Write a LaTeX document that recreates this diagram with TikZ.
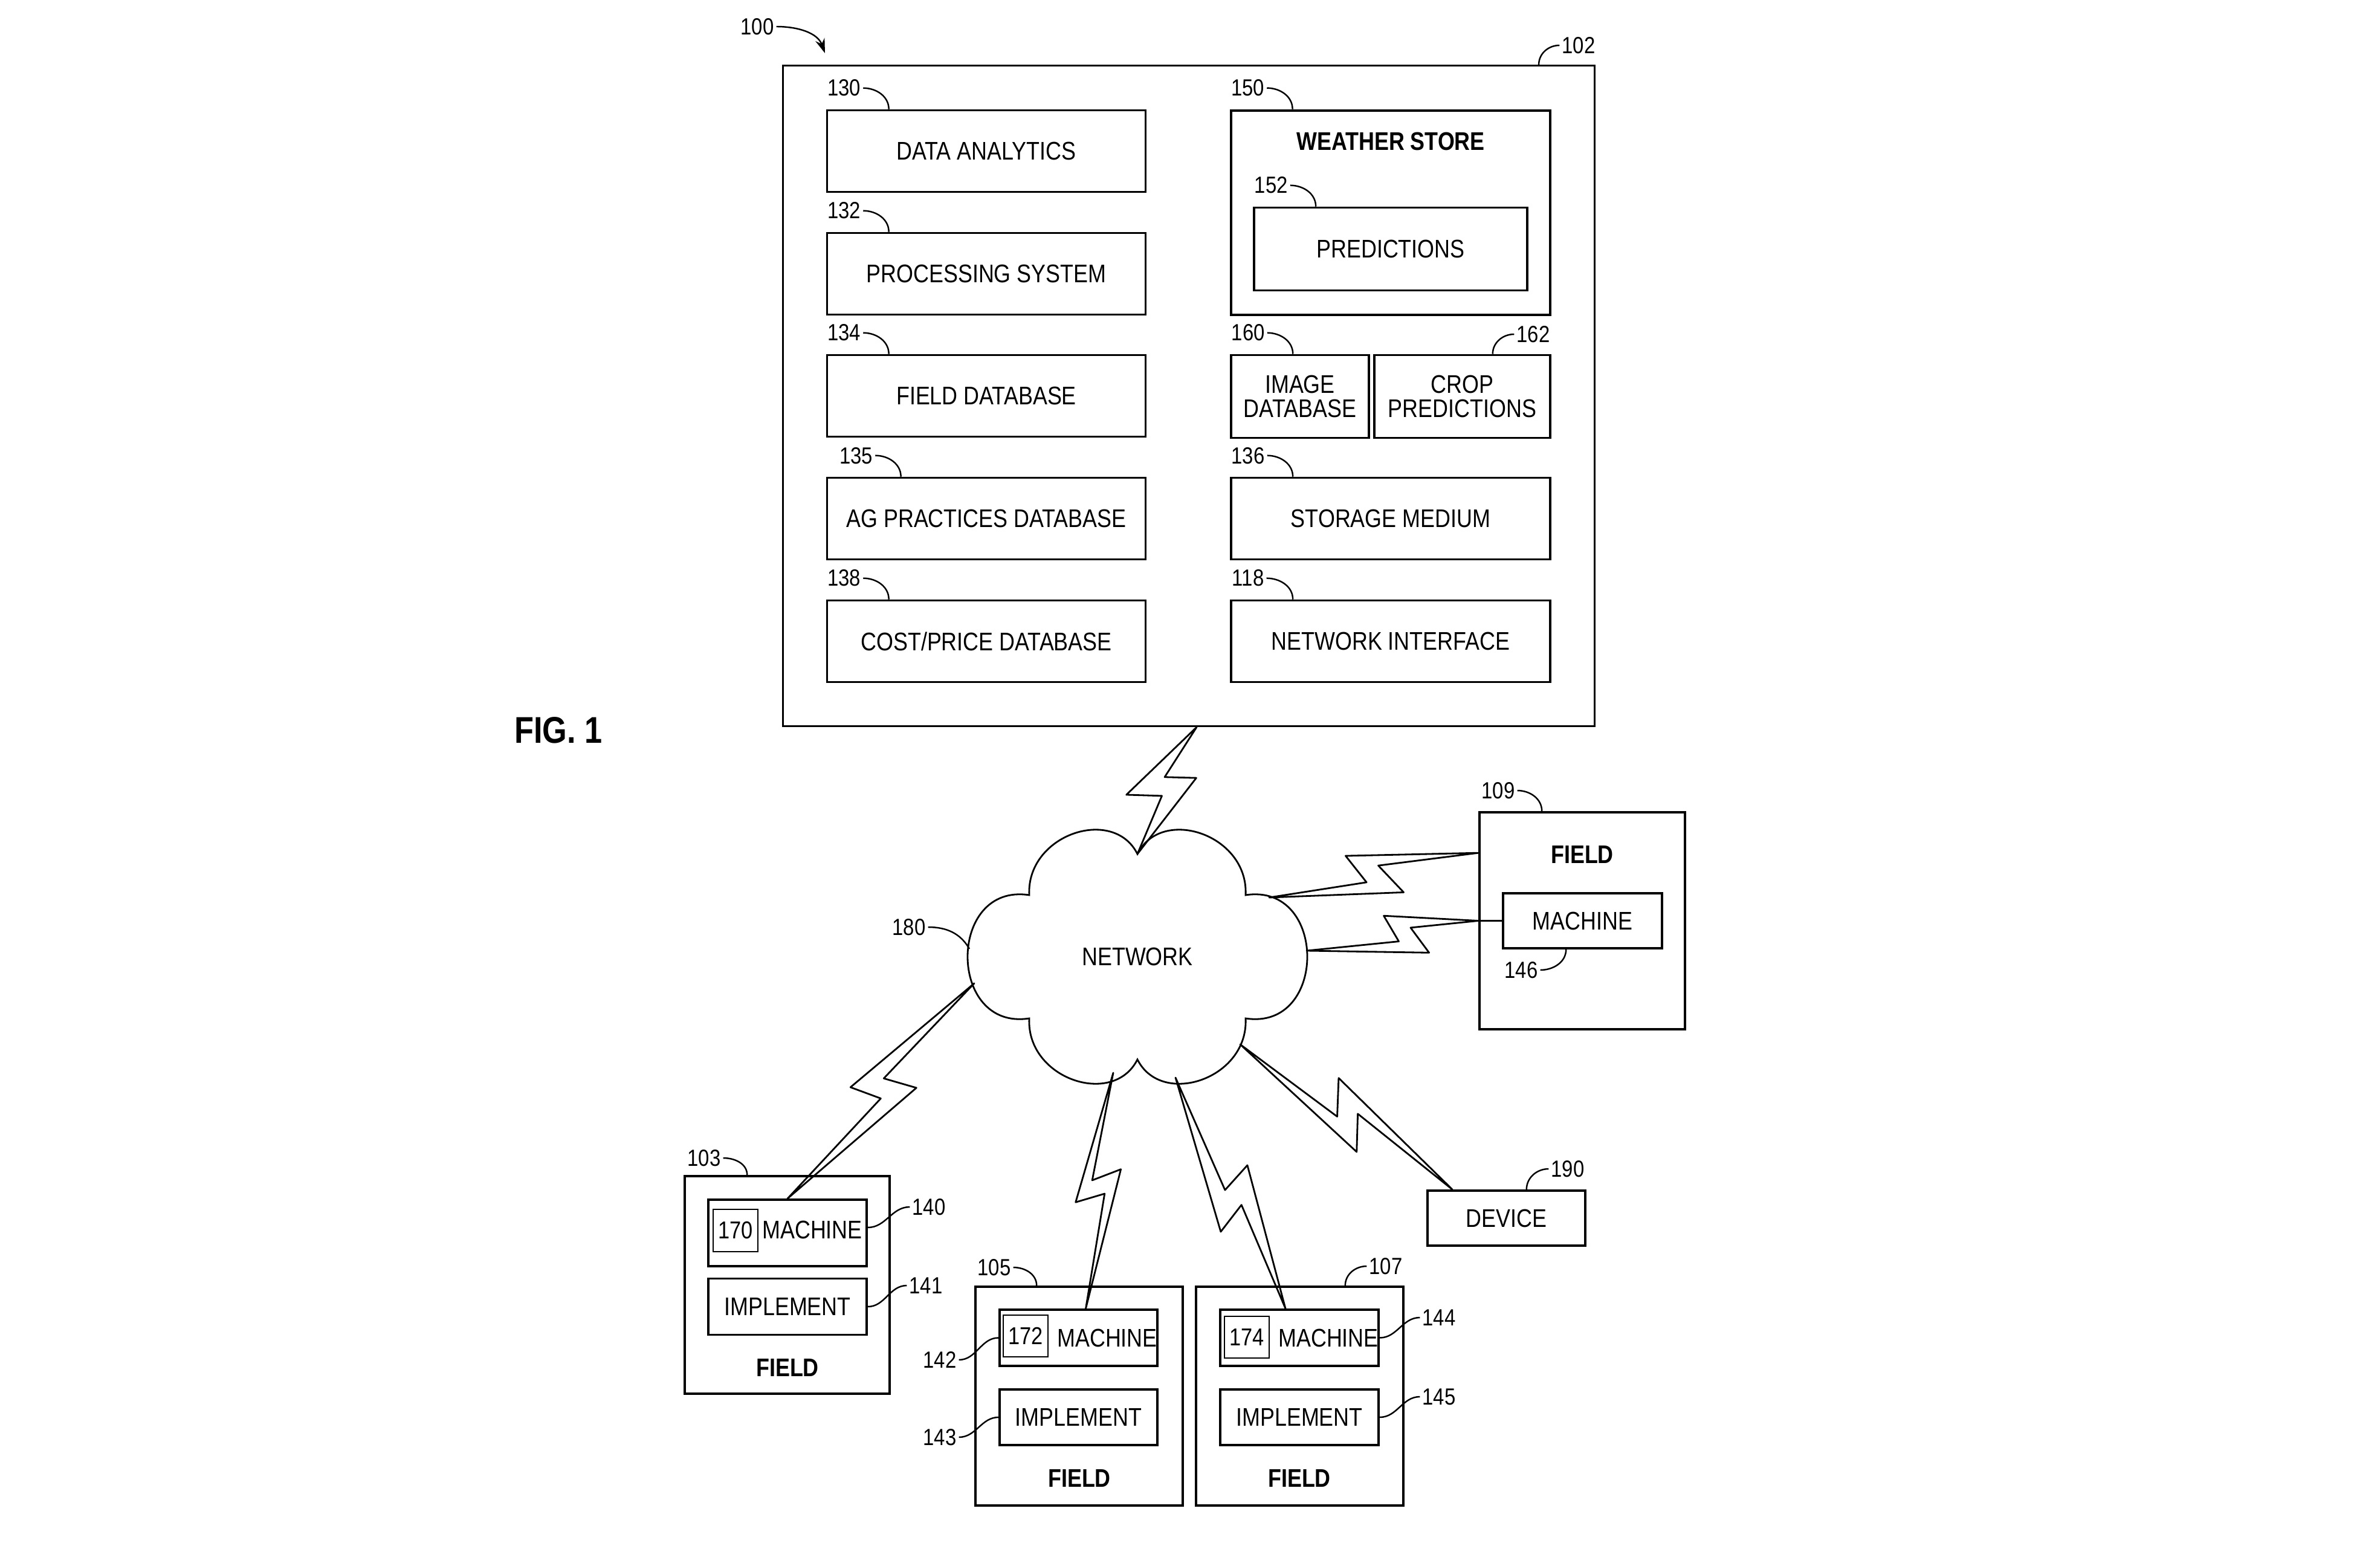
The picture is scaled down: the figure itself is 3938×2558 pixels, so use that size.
\documentclass[tikz,border=0pt]{standalone}
\usepackage{fontspec}
\setmainfont[FakeStretch=0.85]{Liberation Sans}
\usetikzlibrary{arrows.meta,positioning,calc}
\newcommand{\boxfont}{\fontsize{12}{11.6}\selectfont}
% lightning link: start, end, two zig points before the end, two after
\newcommand{\drawbolt}[4]{%
  \draw[boltline] (#1) \foreach \f/\w in {#3} { -- ($(#1)!\f!(#2)!\w*0.1mm!90:(#2)$) } -- (#2)
    \foreach \f/\w in {#4} { -- ($(#1)!\f!(#2)!\w*0.1mm!90:(#2)$) } -- cycle;}

\begin{document}
\begin{tikzpicture}[x=0.01cm, y=-0.01cm,
    box/.style={draw, line width=1pt, inner sep=0pt, align=center, font=\boxfont},
    wide/.style={box, minimum width=5.27cm, minimum height=1.35cm},
    tag/.style={draw, line width=0.7pt, inner sep=0pt, minimum width=0.74cm, minimum height=0.70cm, font=\fontsize{11.5}{12}\selectfont},
    num/.style={inner sep=1pt, font=\fontsize{11}{12}\selectfont},
    head/.style={inner sep=1pt, font=\bfseries\fontsize{12}{14}\selectfont},
    lead/.style={line width=0.7pt},
    boltline/.style={line width=0.8pt, line join=round},
    cloudline/.style={line width=0.8pt}]
    \useasboundingbox (0,0) rectangle (3938,2558);

    % Server box
    \node[box, minimum width=13.42cm, minimum height=10.92cm] (main) at (1967,655) {};
    \node[num] (n100) at (1253,44) {100};
    \coordinate (p100) at (1365,88);
    \draw[lead, -{Stealth[length=2.4mm,width=1.6mm]}] (n100.east) to[out=0,in=110] (p100);
    \node[num] (n102) at (2612,75) {102};
    \draw[lead] (n102.west) to[out=180,in=90] ([xshift=-0.94cm]main.north east);

    % Left column
    \foreach \n/\y/\dx/\txt in {130/250/0/DATA ANALYTICS, 132/453/0/PROCESSING SYSTEM,
        134/655/0/FIELD DATABASE, 135/858/20/AG PRACTICES DATABASE, 138/1061/0/{COST/PRICE DATABASE}} {
        \node[wide] (b\n) at (1632,\y) {\txt};
        \node[num] (n\n) at ([xshift=0.30cm+\dx*0.01cm, yshift=0.35cm]b\n.north west) {\n};
        \draw[lead] (n\n.east) to[out=0,in=90] ([xshift=1.04cm+\dx*0.01cm]b\n.north west);
    }

    % Right column
    \node[box, line width=1.3pt, minimum width=5.28cm, minimum height=3.38cm] (b150) at (2301,352) {};
    \node[head] (t150) at (2301,234) {WEATHER STORE};
    \node[box, minimum width=4.52cm, minimum height=1.37cm] (b152) at (2301,412) {PREDICTIONS};
    \node[box, minimum width=2.28cm, minimum height=1.37cm] (b160) at (2151,656) {IMAGE\\DATABASE};
    \node[box, minimum width=2.91cm, minimum height=1.37cm] (b162) at (2419.5,656) {CROP\\PREDICTIONS};
    \node[wide, minimum width=5.28cm] (b136) at (2301,858) {STORAGE MEDIUM};
    \node[wide, minimum width=5.28cm] (b118) at (2301,1061) {NETWORK INTERFACE};
    \foreach \n in {150,152,160,136,118} {
        \node[num] (n\n) at ([xshift=0.30cm, yshift=0.35cm]b\n.north west) {\n};
        \draw[lead] (n\n.east) to[out=0,in=90] ([xshift=1.04cm]b\n.north west);
    }
    \node[num] (n162) at (2537,553) {162};
    \draw[lead] (n162.west) to[out=180,in=90] ([xshift=-0.97cm]b162.north east);

    \node[font=\bfseries\fontsize{17.5}{20}\selectfont] (fig) at (924,1208) {FIG. 1};

    % Network cloud
    \node[font=\boxfont] (net) at (1882,1583) {NETWORK};
    \begin{scope}[shift={(net.center)}]
        \draw[cloudline] (-179,-102) .. controls (-184,-202) and (-40,-250) .. (0,-170)
            .. controls (40,-250) and (184,-202) .. (179,-102)
            .. controls (315,-123) and (315,123) .. (179,102)
            .. controls (184,202) and (40,250) .. (0,170)
            .. controls (-40,250) and (-184,202) .. (-179,102)
            .. controls (-315,123) and (-315,-123) .. cycle;
        \coordinate (c-top) at (0,-170);
        \coordinate (c-109) at (218,-98);
        \coordinate (c-146) at (280,-10);
        \coordinate (c-140) at (-270,44);
        \coordinate (c-172) at (-40,192);
        \coordinate (c-174) at (63,200);
        \coordinate (c-190) at (170,145);
        \coordinate (c-180) at (-278,-13);
    \end{scope}
    \node[num] (n180) at (1504,1534) {180};
    \draw[lead] (n180.east) to[out=0,in=120] (c-180);

    % Field 109
    \node[box, minimum width=3.40cm, minimum height=3.59cm] (f109) at (2618,1523.5) {};
    \node[head] (t109) at (2618,1414) {FIELD};
    \node[box, minimum width=2.63cm, minimum height=0.91cm] (m146) at (2618.5,1523.5) {MACHINE};
    \node[num] (n109) at (2479,1308) {109};
    \draw[lead] (n109.east) to[out=0,in=90] ([xshift=1.05cm]f109.north west);
    \node[num] (n146) at (2517,1605) {146};
    \draw[lead] (n146.east) to[out=0,in=-90] ([xshift=1.06cm]m146.south west);

    % Field 103
    \node[box, minimum width=3.39cm, minimum height=3.60cm] (f103) at (1302.5,2126) {};
    \node[box, minimum width=2.62cm, minimum height=1.10cm] (m140) at (1303,2040) {};
    \node[tag] (t170) at (1217,2036) {170};
    \node[font=\boxfont] (x140) at (1344,2035) {MACHINE};
    \node[box, minimum width=2.62cm, minimum height=0.93cm] (i141) at (1303,2162) {IMPLEMENT};
    \node[head] (t103) at (1303,2263) {FIELD};
    \node[num] (n103) at (1165,1916) {103};
    \draw[lead] (n103.east) to[out=0,in=90] ([xshift=1.05cm]f103.north west);
    \node[num] (n140) at (1537,1997) {140};
    \draw[lead] (n140.west) to[out=180,in=0] ([yshift=0.09cm]m140.east);
    \node[num] (n141) at (1532,2127) {141};
    \draw[lead] (n141.west) to[out=180,in=0] (i141.east);

    % Field 105
    \node[box, minimum width=3.43cm, minimum height=3.62cm] (f105) at (1785.5,2310) {};
    \node[box, minimum width=2.61cm, minimum height=0.93cm] (m142) at (1784.5,2213.5) {};
    \node[tag, minimum height=0.69cm] (t172) at (1697,2210.5) {172};
    \node[font=\boxfont] (x142) at (1832,2214) {MACHINE};
    \node[box, minimum width=2.61cm, minimum height=0.92cm] (i143) at (1784.5,2345) {IMPLEMENT};
    \node[head] (t105) at (1786,2446) {FIELD};
    \node[num] (n105) at (1645,2097) {105};
    \draw[lead] (n105.east) to[out=0,in=90] ([xshift=1.03cm]f105.north west);
    \node[num] (n142) at (1555,2250) {142};
    \draw[lead] (n142.east) to[out=0,in=180] (m142.west);
    \node[num] (n143) at (1555,2378) {143};
    \draw[lead] (n143.east) to[out=0,in=180] (i143.west);

    % Field 107
    \node[box, minimum width=3.43cm, minimum height=3.62cm] (f107) at (2150.5,2310) {};
    \node[box, minimum width=2.62cm, minimum height=0.93cm] (m144) at (2150,2213.5) {};
    \node[tag, minimum height=0.69cm] (t174) at (2063,2212.5) {174};
    \node[font=\boxfont] (x144) at (2198,2214) {MACHINE};
    \node[box, minimum width=2.62cm, minimum height=0.92cm] (i145) at (2150,2345) {IMPLEMENT};
    \node[head] (t107) at (2150,2446) {FIELD};
    \node[num] (n107) at (2293,2095) {107};
    \draw[lead] (n107.west) to[out=180,in=90] ([xshift=-0.98cm]f107.north east);
    \node[num] (n144) at (2381,2180) {144};
    \draw[lead] (n144.west) to[out=180,in=0] (m144.east);
    \node[num] (n145) at (2381,2311) {145};
    \draw[lead] (n145.west) to[out=180,in=0] (i145.east);

    % Device
    \node[box, minimum width=2.61cm, minimum height=0.91cm] (dev) at (2492.5,2015.5) {DEVICE};
    \node[num] (n190) at (2594,1934) {190};
    \draw[lead] (n190.west) to[out=180,in=90] ([xshift=-0.99cm]dev.north east);

    % Wireless links
    \coordinate (e-top) at ([xshift=0.13cm]main.south);
    \coordinate (e-109) at ([yshift=-0.69cm]f109.north west);
    \coordinate (e-146) at (f109.west |- m146.west);
    \coordinate (e-140) at (m140.north);
    \coordinate (e-172) at ([xshift=0.12cm]m142.north);
    \coordinate (e-174) at ([xshift=-0.23cm]m144.north);
    \coordinate (e-190) at ([xshift=0.43cm]dev.north west);
    \drawbolt{c-top}{e-top}{.45/4, .35/58}{.58/13, .67/-35}
    \drawbolt{c-109}{e-109}{.62/-38, .53/14}{.39/41, .46/-9}
    \drawbolt{c-146}{e-146}{.69/-38, .61/8}{.47/35, .53/-11}
    \draw[boltline] (e-146) -- (m146.west);
    \drawbolt{c-140}{e-140}{.56/-42, .52/8}{.41/41, .46/-10}
    \drawbolt{c-172}{e-172}{.56/-37, .51/9}{.40/31, .46/-14}
    \drawbolt{c-174}{e-174}{.62/-42, .56/8}{.43/45, .48/-6}
    \drawbolt{c-190}{e-190}{.47/-8, .39/46}{.53/15, .61/-38}
\end{tikzpicture}
\end{document}
